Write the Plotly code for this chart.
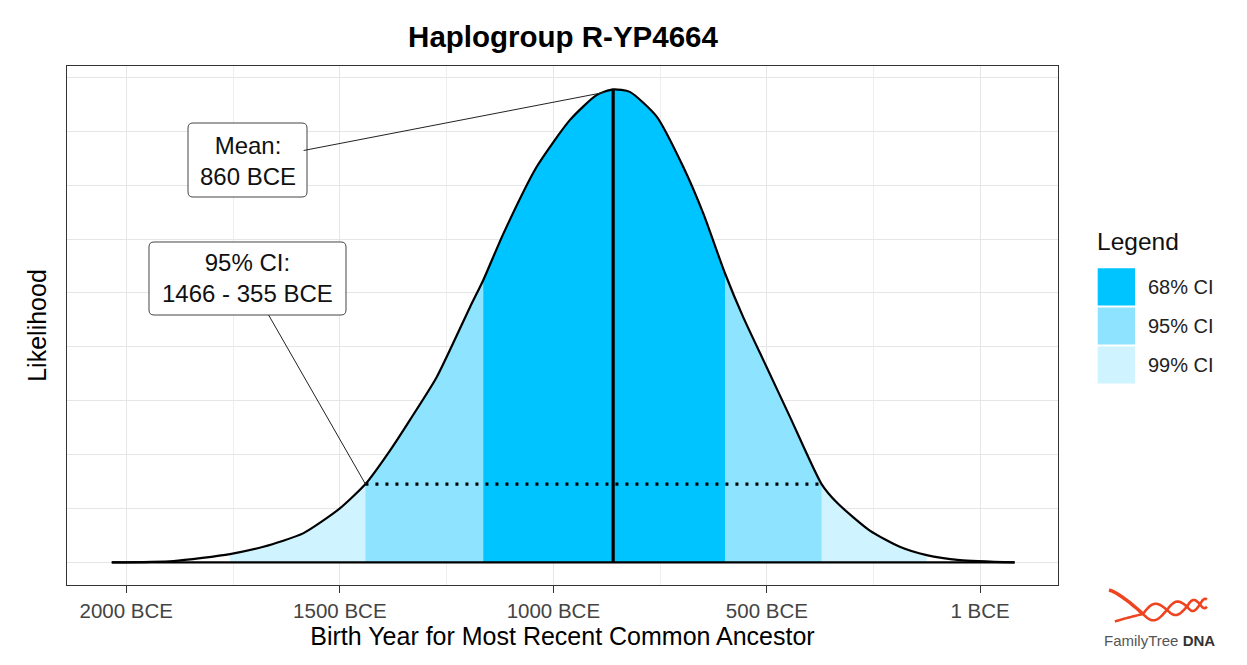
import numpy as np
import plotly.graph_objects as go

# ---------------- data ----------------
year_bce = [2034, 1890, 1757, 1679, 1586, 1500, 1440, 1383, 1336, 1273, 1195, 1164,
            1117, 1039, 961, 899, 860, 821, 758, 696, 649, 598, 556, 501, 446, 372,
            335, 259, 189, 126, 48, -80]
likelihood = [0.0, 0.024, 0.154, 0.289, 0.538, 1.00, 1.453, 2.07, 2.64, 3.44, 4.74, 5.24,
              6.10, 7.34, 8.21, 8.67, 8.776, 8.73, 8.27, 7.34, 6.475, 5.36, 4.56, 3.63, 2.70, 1.453,
              1.10, 0.59, 0.29, 0.135, 0.043, 0.0]

ci_labels = ["68% CI", "95% CI", "99% CI"]
ci_lower_bce = [1164, 1440, 1757]
ci_upper_bce = [598, 372, 126]
ci_colors = ["#00C4FF", "#8EE4FF", "#D0F4FF"]

mean_bce = 860
mean_text = "Mean:<br>860 BCE"
ci95_text = "95% CI:<br>1466 - 355 BCE"

tick_bce = [2000, 1500, 1000, 500, 1]
tick_labels = ["2000 BCE", "1500 BCE", "1000 BCE", "500 BCE", "1 BCE"]
minor_bce = [1750, 1250, 750, 250]

title_text = "Haplogroup R-YP4664"
x_title = "Birth Year for Most Recent Common Ancestor"
y_title = "Likelihood"

# ---------------- geometry helpers (page pixel coords; page body has 8px margin) ----------------
OFF = 8
W, H = 1247 - OFF, 665 - OFF
PL, PR, PT, PB = 67, 1058, 66, 585          # plot area in page pixels
ML, MT = PL - OFF, PT - OFF
MR, MB = (OFF + W) - PR, (OFF + H) - PB
PW, PH = PR - PL, PB - PT


def pxx(px):
    return (px - PL) / PW


def pxy(py):
    return (PB - py) / PH


def P(px, py):
    return f"{pxx(px):.5f},{pxy(py):.5f}"


def rounded_box(x0, y0, x1, y1, r):
    return (f"M {P(x0 + r, y0)} L {P(x1 - r, y0)} Q {P(x1, y0)} {P(x1, y0 + r)} "
            f"L {P(x1, y1 - r)} Q {P(x1, y1)} {P(x1 - r, y1)} L {P(x0 + r, y1)} "
            f"Q {P(x0, y1)} {P(x0, y1 - r)} L {P(x0, y0 + r)} Q {P(x0, y0)} {P(x0 + r, y0)} Z")


FONT = "Liberation Sans, Arial, Helvetica, sans-serif"
SMOOTH = 0.6

xs = -np.array(year_bce, dtype=float)
ys = np.array(likelihood, dtype=float)
yb = np.array(year_bce)

fig = go.Figure()

# CI fills: widest first
for lab, lo, hi, col in reversed(list(zip(ci_labels, ci_lower_bce, ci_upper_bce, ci_colors))):
    m = (yb <= lo) & (yb >= hi)
    fig.add_trace(go.Scatter(x=xs[m], y=ys[m], mode="lines",
                             line=dict(width=0, color=col, shape="spline", smoothing=SMOOTH),
                             fill="tozeroy", fillcolor=col, name=lab, showlegend=False,
                             hoverinfo="skip"))

# outline curve + baseline
fig.add_trace(go.Scatter(x=xs, y=ys, mode="lines",
                         line=dict(color="black", width=2.2, shape="spline", smoothing=SMOOTH),
                         showlegend=False, hoverinfo="skip"))
fig.add_trace(go.Scatter(x=[xs[0], xs[-1]], y=[0, 0], mode="lines",
                         line=dict(color="black", width=2.2), showlegend=False, hoverinfo="skip"))

# mean line
order = np.argsort(xs)
peak_h = float(np.interp(-mean_bce, xs[order], ys[order]))
fig.add_trace(go.Scatter(x=[-mean_bce, -mean_bce], y=[0, peak_h], mode="lines",
                         line=dict(color="black", width=3.2), showlegend=False, hoverinfo="skip"))

# 95% CI dotted line
h95 = float(np.interp(-ci_lower_bce[1], xs[order], ys[order]))
fig.add_trace(go.Scatter(x=[-ci_lower_bce[1], -ci_upper_bce[1]], y=[h95, h95], mode="lines",
                         line=dict(color="black", width=3.2, dash="3px,7px"), showlegend=False,
                         hoverinfo="skip"))

shapes = []
# rounded label boxes (drawn as shapes, text + connector from annotations)
shapes.append(dict(type="path", path=rounded_box(188, 123, 307, 197, 5), xref="paper",
                   yref="paper", fillcolor="white", line=dict(color="#444", width=1)))
shapes.append(dict(type="path", path=rounded_box(149, 242, 346, 315, 5), xref="paper",
                   yref="paper", fillcolor="white", line=dict(color="#444", width=1)))

annotations = []
mean_target = -880
annotations.append(dict(x=mean_target, y=float(np.interp(mean_target, xs[order], ys[order])),
                        xref="x", yref="y", text=mean_text, showarrow=True, arrowhead=0,
                        arrowwidth=1, arrowcolor="#222", ax=-357, ay=69, standoff=0,
                        font=dict(family=FONT, size=24, color="#111"), align="center",
                        bgcolor="rgba(0,0,0,0)", borderwidth=0, borderpad=8))
annotations.append(dict(x=-ci_lower_bce[1], y=h95, xref="x", yref="y", text=ci95_text,
                        showarrow=True, arrowhead=0, arrowwidth=1, arrowcolor="#222",
                        ax=-118, ay=-206, standoff=0,
                        font=dict(family=FONT, size=24, color="#111"), align="center",
                        bgcolor="rgba(0,0,0,0)", borderwidth=0, borderpad=8))

# manual legend
annotations.append(dict(x=pxx(1095), y=pxy(241.7), xref="paper", yref="paper", text="Legend",
                        showarrow=False, xanchor="left", yanchor="middle",
                        font=dict(family=FONT, size=24.5, color="#111")))
sw_y = [(268.3, 305.5), (307.5, 344.5), (346.5, 383.5)]
for lab, col, (y0, y1) in zip(ci_labels, ci_colors, sw_y):
    shapes.append(dict(type="rect", xref="paper", yref="paper", x0=pxx(1097.7), x1=pxx(1135),
                       y0=pxy(y1), y1=pxy(y0), fillcolor=col, line=dict(width=0)))
    annotations.append(dict(x=pxx(1146), y=pxy((y0 + y1) / 2), xref="paper", yref="paper",
                            text=lab, showarrow=False, xanchor="left", yanchor="middle",
                            font=dict(family=FONT, size=20, color="#222")))

# logo: helix (decorative)
red = "#EE4420"


def path_from(ptsx, ptsy):
    return "M " + " L ".join(P(a, b) for a, b in zip(ptsx, ptsy))


t = np.linspace(0, 1, 30)
tx = 1109 + (1143 - 1109) * t
ty_up = 590 + (614 - 590) * (t ** 1.3)
ty_lo = 624 + (614 - 624) * t ** 0.8
shapes.append(dict(type="path", path=path_from(tx, ty_up), xref="paper", yref="paper",
                   line=dict(color=red, width=3.5)))
shapes.append(dict(type="path", path=path_from(tx[5:], ty_lo[5:]), xref="paper", yref="paper",
                   line=dict(color=red, width=2.5)))
hx = np.linspace(1143, 1207, 120)
phase = np.interp(hx, [1143, 1167, 1187, 1200, 1207], [0, np.pi, 2 * np.pi, 3 * np.pi, 3.7 * np.pi])
cyl = 614 - (hx - 1143) * 0.17
amp = 9 - (hx - 1143) * 0.07
shapes.append(dict(type="path", path=path_from(hx, cyl + amp * np.sin(phase)), xref="paper",
                   yref="paper", line=dict(color=red, width=2.6)))
shapes.append(dict(type="path", path=path_from(hx, cyl - amp * np.sin(phase)), xref="paper",
                   yref="paper", line=dict(color=red, width=2.6)))
annotations.append(dict(x=pxx(1159), y=pxy(640), xref="paper", yref="paper",
                        text="<span style='color:#555'>FamilyTree</span> <b>DNA</b>",
                        showarrow=False, xanchor="center", yanchor="middle",
                        font=dict(family=FONT, size=15, color="#333")))

fig.update_layout(
    width=W, height=H,
    margin=dict(l=ML, r=MR, t=MT, b=MB),
    paper_bgcolor="white", plot_bgcolor="white",
    title=dict(text=f"<b>{title_text}</b>", x=pxx(563), xref="paper", xanchor="center",
               y=1 - (37 - OFF) / H, yanchor="middle",
               font=dict(family=FONT, size=29.5, color="black")),
    showlegend=False,
    shapes=shapes, annotations=annotations,
    xaxis=dict(range=[-2138.8, 181.6], tickvals=[-v for v in tick_bce], ticktext=tick_labels,
               ticks="outside", ticklen=7, tickcolor="#333", tickwidth=1.2,
               tickfont=dict(family=FONT, size=20.5, color="#444"),
               showgrid=True, gridcolor="#E6E6E6", gridwidth=1.3, zeroline=False,
               minor=dict(tickvals=[-v for v in minor_bce], showgrid=True, gridcolor="#EEEEEE",
                          gridwidth=1, ticks=""),
               showline=True, mirror=True, linecolor="#333", linewidth=1.2,
               title=dict(text=x_title, standoff=5, font=dict(family=FONT, size=25, color="black"))),
    yaxis=dict(range=[-0.42, 9.21], tick0=0, dtick=1, showticklabels=False, ticks="",
               showgrid=True, gridcolor="#E6E6E6", gridwidth=1.2, zeroline=False,
               showline=True, mirror=True, linecolor="#333", linewidth=1.2,
               title=dict(text=y_title, standoff=12, font=dict(family=FONT, size=25, color="black"))),
)

fig.write_html("out.html")
